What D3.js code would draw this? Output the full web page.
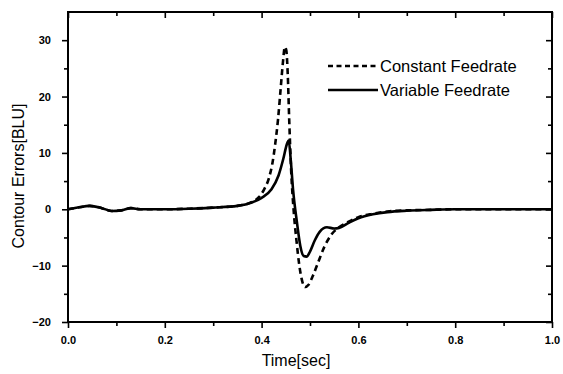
<!DOCTYPE html>
<html>
<head>
<meta charset="utf-8">
<script src="https://cdn.jsdelivr.net/npm/d3@7"></script>
<style>
  body { margin: 0; background: #fff; }
  svg { display: block; font-family: "Liberation Sans", Arial, sans-serif; }
</style>
</head>
<body>
<svg id="chart" width="563" height="374"></svg>
<script>
// data
const series_names = ['Constant Feedrate', 'Variable Feedrate'];

const time_const = [0, 0.02, 0.045, 0.07, 0.09, 0.11, 0.13, 0.15, 0.2, 0.25, 0.3, 0.35, 0.38, 0.395, 0.405, 0.415, 0.422, 0.428, 0.434, 0.439, 0.444, 0.448, 0.451, 0.454, 0.457, 0.461, 0.466, 0.472, 0.478, 0.484, 0.49, 0.497, 0.506, 0.516, 0.53, 0.545, 0.56, 0.58, 0.6, 0.63, 0.66, 0.7, 0.75, 0.8, 0.9, 1.0];
const error_const = [0, 0.3, 0.6, 0.2, -0.3, -0.2, 0.2, 0, 0, 0.1, 0.3, 0.6, 1.3, 2.2, 3.5, 5.5, 8, 11.5, 16, 21, 26, 28.8, 28.2, 24, 16, 7, 0, -5.5, -10, -12.8, -13.8, -13.4, -11.8, -9.6, -6.6, -4.4, -3.2, -2.2, -1.4, -0.8, -0.4, -0.2, -0.1, 0, 0, 0];

const time_var = [0, 0.02, 0.045, 0.07, 0.09, 0.11, 0.13, 0.15, 0.2, 0.25, 0.3, 0.35, 0.38, 0.4, 0.42, 0.435, 0.445, 0.452, 0.456, 0.46, 0.465, 0.473, 0.48, 0.487, 0.493, 0.5, 0.51, 0.52, 0.535, 0.55, 0.56, 0.58, 0.6, 0.63, 0.66, 0.7, 0.75, 0.8, 0.9, 1.0];
const error_var = [0, 0.3, 0.6, 0.2, -0.3, -0.2, 0.2, 0, 0, 0.1, 0.3, 0.6, 1.2, 2.0, 3.5, 6, 9, 11.5, 12.2, 9, 3.5, -2.3, -6.5, -8.3, -8.4, -7.5, -5.5, -4.0, -3.2, -3.4, -3.3, -2.4, -1.6, -0.9, -0.5, -0.25, -0.1, 0, 0, 0];

const x_major = [0, 0.2, 0.4, 0.6, 0.8, 1.0];
const x_minor = [0.1, 0.3, 0.5, 0.7, 0.9];
const y_major = [-20, -10, 0, 10, 20, 30];
const y_minor = [-15, -5, 5, 15, 25];

// layout
const area = { left: 68, right: 552, top: 12, bottom: 322 };

const svg = d3.select('#chart');

const x_scale = d3.scaleLinear().domain([0, 1]).range([area.left, area.right]);
const y_scale = d3.scaleLinear().domain([-20, 35]).range([area.bottom, area.top]);

// axes: outward ticks bottom/left, inward mirrored ticks top/right
function draw_axis(axis, values, size, padding, format, transform) {
  const g = svg.append('g')
    .attr('transform', transform)
    .call(axis
      .tickValues(values)
      .tickSizeInner(size)
      .tickSizeOuter(0)
      .tickPadding(padding)
      .tickFormat(format));
  g.select('.domain').remove();
  g.selectAll('line').attr('stroke', '#000').attr('stroke-width', 1.6);
  g.selectAll('text')
    .attr('fill', '#000')
    .style('font-size', '11px')
    .style('font-weight', 'bold');
  return g;
}

const no_label = () => '';

draw_axis(d3.axisBottom(x_scale), x_major, 6, 8, d3.format('.1f'), `translate(0,${area.bottom})`);
draw_axis(d3.axisBottom(x_scale), x_minor, 4, 8, no_label, `translate(0,${area.bottom})`);
draw_axis(d3.axisLeft(y_scale), y_major, 6, 11, d3.format('d'), `translate(${area.left},0)`);
draw_axis(d3.axisLeft(y_scale), y_minor, 4, 8, no_label, `translate(${area.left},0)`);

draw_axis(d3.axisTop(x_scale), x_major, -6, 3, no_label, `translate(0,${area.top})`);
draw_axis(d3.axisTop(x_scale), x_minor, -4, 3, no_label, `translate(0,${area.top})`);
draw_axis(d3.axisRight(y_scale), y_major, -6, 3, no_label, `translate(${area.right},0)`);
draw_axis(d3.axisRight(y_scale), y_minor, -4, 3, no_label, `translate(${area.right},0)`);

// frame
svg.append('rect')
  .attr('x', area.left)
  .attr('y', area.top)
  .attr('width', area.right - area.left)
  .attr('height', area.bottom - area.top)
  .attr('fill', 'none')
  .attr('stroke', '#000')
  .attr('stroke-width', 2);

// curves
const line = d3.line()
  .x(d => x_scale(d[0]))
  .y(d => y_scale(d[1]))
  .curve(d3.curveMonotoneX);

const const_points = d3.zip(time_const, error_const);
const var_points = d3.zip(time_var, error_var);

svg.append('path')
  .datum(const_points)
  .attr('d', line)
  .attr('fill', 'none')
  .attr('stroke', '#000')
  .attr('stroke-width', 2.6)
  .attr('stroke-dasharray', '6,4');

svg.append('path')
  .datum(var_points)
  .attr('d', line)
  .attr('fill', 'none')
  .attr('stroke', '#000')
  .attr('stroke-width', 2.6);

// legend
const legend = svg.append('g').attr('transform', 'translate(328,66)');
series_names.forEach((name, i) => {
  legend.append('line')
    .attr('x1', 0).attr('x2', 50)
    .attr('y1', i * 24).attr('y2', i * 24)
    .attr('stroke', '#000')
    .attr('stroke-width', 2.6)
    .attr('stroke-dasharray', i === 0 ? '5,3.5' : null);
  legend.append('text')
    .attr('x', 52)
    .attr('y', i * 24 + 6)
    .style('font-size', '16.5px')
    .text(name);
});

// axis titles
svg.append('text')
  .attr('x', 296)
  .attr('y', 366)
  .attr('text-anchor', 'middle')
  .style('font-size', '16px')
  .text('Time[sec]');

svg.append('text')
  .attr('transform', 'translate(24,176) rotate(-90)')
  .attr('text-anchor', 'middle')
  .style('font-size', '16px')
  .text('Contour Errors[BLU]');
</script>
</body>
</html>
